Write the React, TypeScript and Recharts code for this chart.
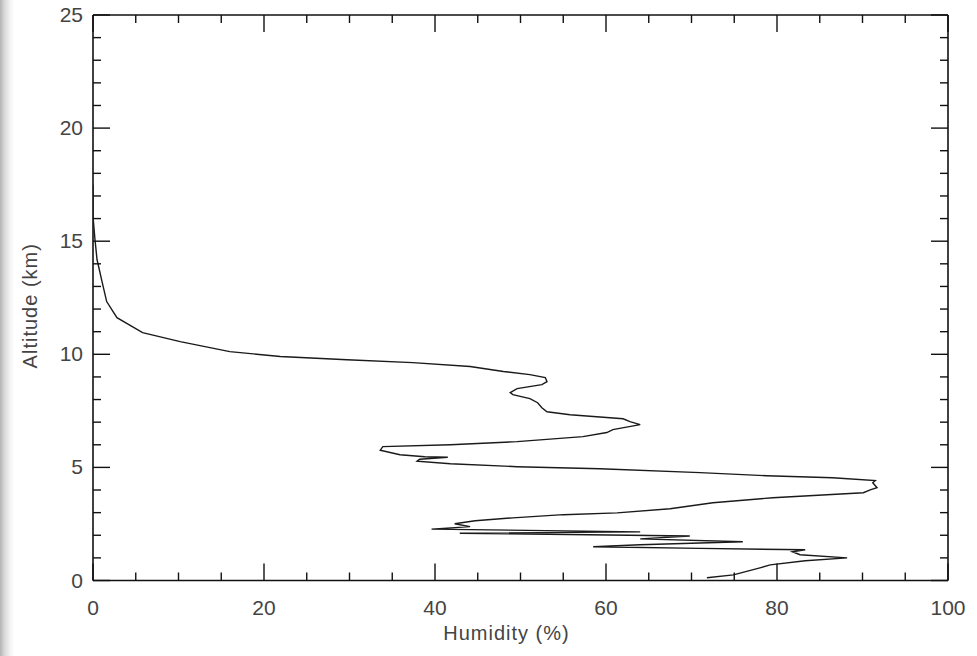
import React from "react";
import { ScatterChart, Scatter, XAxis, YAxis, Label } from "recharts";

const altitudeKm = [
  0.12, 0.25, 0.56, 0.69, 0.87, 1.0, 1.14, 1.27, 1.36, 1.42, 1.49, 1.58, 1.71, 1.84, 1.97, 2.09,
  2.15, 2.27, 2.38, 2.51, 2.64, 2.77, 2.91, 2.99, 3.17, 3.44, 3.66, 3.88, 4.01, 4.1, 4.32, 4.42,
  4.54, 4.63, 4.77, 4.94, 5.03, 5.16, 5.27, 5.36, 5.45, 5.47, 5.56, 5.76, 5.92, 6.0, 6.14, 6.36,
  6.54, 6.67, 6.89, 7.02, 7.15, 7.33, 7.46, 7.64, 7.86, 8.04, 8.22, 8.31, 8.48, 8.66, 8.79, 8.97,
  9.1, 9.24, 9.46, 9.63, 9.76, 9.9, 10.12, 10.56, 10.96, 11.62, 12.33, 13.22, 14.19, 15.08, 16.09,
  17.5,
];
const humidityPct = [
  71.8, 74.9, 78.0, 79.2, 83.3, 88.2, 82.7, 81.8, 83.3, 71.0, 58.5, 64.0, 76.0, 64.0, 69.8, 42.9,
  64.0, 39.6, 44.1, 42.3, 44.7, 49.1, 55.0, 61.3, 67.5, 72.5, 79.5, 90.1, 90.9, 91.7, 91.2, 91.5,
  86.5, 78.8, 71.0, 59.3, 49.6, 41.8, 37.9, 38.2, 41.5, 38.8, 35.9, 33.6, 33.9, 41.8, 49.6, 57.3,
  60.1, 60.8, 64.0, 62.8, 62.0, 55.8, 53.1, 52.5, 52.0, 51.1, 49.1, 48.8, 49.6, 52.5, 53.1, 52.9,
  51.1, 48.0, 44.1, 37.4, 29.7, 21.9, 16.0, 10.2, 5.8, 2.8, 1.6, 1.05, 0.47, 0.23, 0.0, 0.0,
];

const xTicks = [0, 5, 10, 15, 20, 25, 30, 35, 40, 45, 50, 55, 60, 65, 70, 75, 80, 85, 90, 95, 100];
const xLabelTicks = [0, 20, 40, 60, 80, 100];
const yTicks = [
  0, 1, 2, 3, 4, 5, 6, 7, 8, 9, 10, 11, 12, 13, 14, 15, 16, 17, 18, 19, 20, 21, 22, 23, 24, 25,
];
const yLabelTicks = [0, 5, 10, 15, 20, 25];

const data = altitudeKm.map((alt, i) => ({ alt, hum: humidityPct[i] }));

const FONT = "'Liberation Sans', Arial, sans-serif";
const TEXT = "#444";
const INK = "#111";
const MAJOR = 17;
const MINOR = 8;

// ticks are drawn inward, IDL style, with labels only on bottom/left
function BottomTick(props: any) {
  const { x, y, payload } = props;
  const major = xLabelTicks.includes(payload.value);
  return (
    <g>
      <line x1={x} x2={x} y1={y} y2={y - (major ? MAJOR : MINOR)} stroke={INK} strokeWidth={1.4} />
      {major && (
        <text x={x} y={y + 34} textAnchor="middle" fontSize={21} fill={TEXT} fontFamily={FONT}>
          {payload.value}
        </text>
      )}
    </g>
  );
}

function TopTick(props: any) {
  const { x, y, payload } = props;
  const major = xLabelTicks.includes(payload.value);
  return <line x1={x} x2={x} y1={y} y2={y + (major ? MAJOR : MINOR)} stroke={INK} strokeWidth={1.4} />;
}

function LeftTick(props: any) {
  const { x, y, payload } = props;
  const major = yLabelTicks.includes(payload.value);
  return (
    <g>
      <line x1={x} x2={x + (major ? MAJOR : MINOR)} y1={y} y2={y} stroke={INK} strokeWidth={1.4} />
      {major && (
        <text x={x - 10} y={y + 7} textAnchor="end" fontSize={21} fill={TEXT} fontFamily={FONT}>
          {payload.value}
        </text>
      )}
    </g>
  );
}

function RightTick(props: any) {
  const { x, y, payload } = props;
  const major = yLabelTicks.includes(payload.value);
  return <line x1={x} x2={x - (major ? MAJOR : MINOR)} y1={y} y2={y} stroke={INK} strokeWidth={1.4} />;
}

const NoDot = () => <g />;

const titleStyle = { fontSize: 20, fill: TEXT, fontFamily: FONT, letterSpacing: 1 };

export default function App() {
  return (
    <div style={{ position: "absolute", left: 0, top: 0, width: 977, height: 656, background: "#fff" }}>
      <div
        style={{
          position: "absolute",
          left: 0,
          top: 0,
          width: 14,
          height: 656,
          background: "linear-gradient(to right, #b4b4b4, #dcdcdc 5px, #f2f2f2 10px, #fff 14px)",
        }}
      />
      <ScatterChart width={977} height={656} margin={{ top: 14, right: 28, bottom: 15, left: 0 }}>
        <XAxis
          xAxisId="b"
          type="number"
          dataKey="hum"
          domain={[0, 100]}
          allowDataOverflow
          ticks={xTicks}
          interval={0}
          height={60.5}
          tickSize={0}
          tickMargin={0}
          tickLine={false}
          tick={<BottomTick />}
          axisLine={{ stroke: INK, strokeWidth: 1.6 }}
        >
          <Label value="Humidity (%)" position="insideBottom" offset={1} dx={-14} style={titleStyle} />
        </XAxis>
        <XAxis
          xAxisId="t"
          orientation="top"
          type="number"
          dataKey="hum"
          domain={[0, 100]}
          allowDataOverflow
          ticks={xTicks}
          interval={0}
          height={1}
          tickSize={0}
          tickMargin={0}
          tickLine={false}
          tick={<TopTick />}
          axisLine={{ stroke: INK, strokeWidth: 1.6 }}
        />
        <YAxis
          yAxisId="l"
          type="number"
          dataKey="alt"
          domain={[0, 25]}
          allowDataOverflow
          ticks={yTicks}
          interval={0}
          width={93}
          tickSize={0}
          tickMargin={0}
          tickLine={false}
          tick={<LeftTick />}
          axisLine={{ stroke: INK, strokeWidth: 1.6 }}
        >
          <Label
            value="Altitude (km)"
            angle={-90}
            position="insideLeft"
            offset={30}
            dy={8}
            style={{ ...titleStyle, textAnchor: "middle" }}
          />
        </YAxis>
        <YAxis
          yAxisId="r"
          orientation="right"
          type="number"
          dataKey="alt"
          domain={[0, 25]}
          allowDataOverflow
          ticks={yTicks}
          interval={0}
          width={1}
          tickSize={0}
          tickMargin={0}
          tickLine={false}
          tick={<RightTick />}
          axisLine={{ stroke: INK, strokeWidth: 1.6 }}
        />
        <Scatter
          xAxisId="b"
          yAxisId="l"
          data={data}
          line={{ stroke: "#1a1a1a", strokeWidth: 1.4 }}
          lineType="joint"
          shape={<NoDot />}
          isAnimationActive={false}
        />
      </ScatterChart>
    </div>
  );
}
